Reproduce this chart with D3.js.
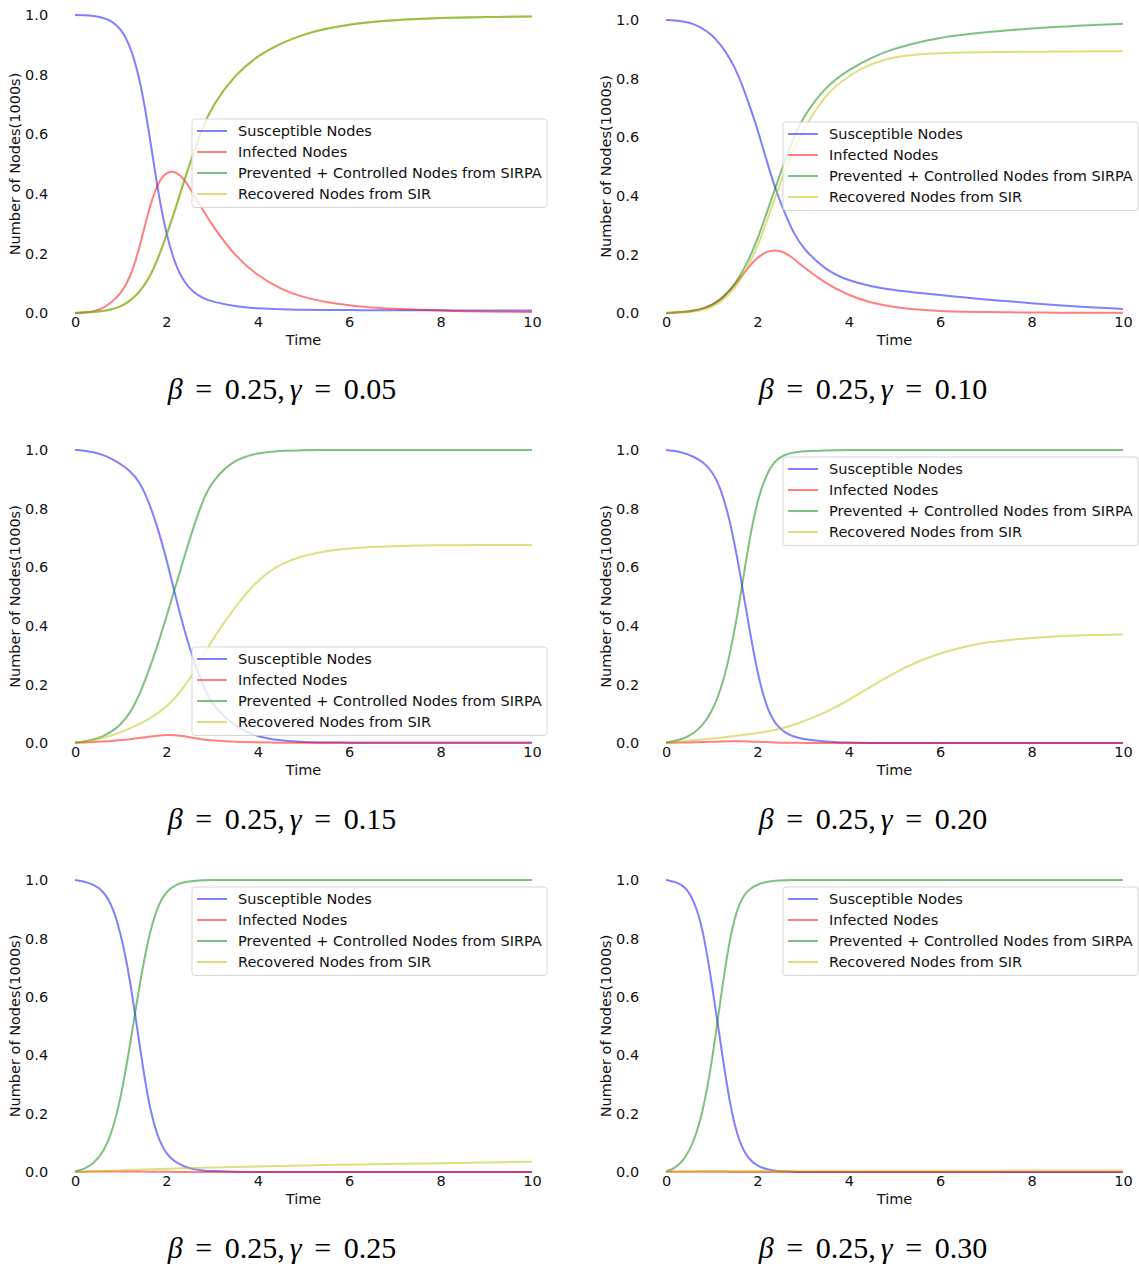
<!DOCTYPE html>
<html>
<head>
<meta charset="utf-8">
<script src="https://cdn.jsdelivr.net/npm/d3@7"></script>
<style>
  html, body { margin: 0; padding: 0; background: #ffffff; }
  svg { display: block; }
</style>
</head>
<body>
<svg id="chart" width="1139" height="1270"></svg>
<script>
// ---------------- DATA ----------------
const T = [0,0.2,0.4,0.6,0.8,1.0,1.2,1.4,1.6,1.8,2.0,2.2,2.4,2.6,2.8,3.0,3.5,4,4.5,5,5.5,6,6.5,7,7.5,8,8.5,9,9.5,10];

// Panel 1: beta 0.25, gamma 0.05
const sus1  = [1.0,0.999,0.997,0.992,0.98,0.955,0.90,0.80,0.63,0.42,0.26,0.16,0.10,0.068,0.05,0.038,0.022,0.015,0.012,0.011,0.010,0.010,0.009,0.009,0.009,0.009,0.008,0.008,0.008,0.008];
const inf1  = [0.001,0.002,0.005,0.015,0.035,0.065,0.115,0.21,0.34,0.435,0.475,0.476,0.448,0.397,0.345,0.295,0.19,0.125,0.08,0.052,0.036,0.025,0.018,0.014,0.011,0.008,0.006,0.005,0.004,0.003];
const prev1 = [0.0,0.001,0.003,0.006,0.012,0.022,0.04,0.068,0.11,0.175,0.26,0.35,0.45,0.54,0.625,0.695,0.80,0.864,0.905,0.935,0.955,0.968,0.977,0.983,0.987,0.99,0.992,0.993,0.994,0.995];
const rec1  = [0.0,0.001,0.003,0.006,0.012,0.022,0.04,0.068,0.11,0.175,0.26,0.35,0.45,0.54,0.625,0.695,0.80,0.864,0.905,0.935,0.955,0.968,0.977,0.983,0.987,0.99,0.992,0.993,0.994,0.995];

// Panel 2: beta 0.25, gamma 0.10
const sus2  = [1.0,0.999,0.995,0.987,0.972,0.95,0.915,0.87,0.807,0.72,0.63,0.52,0.42,0.34,0.27,0.22,0.145,0.11,0.09,0.078,0.069,0.061,0.054,0.046,0.040,0.033,0.027,0.022,0.018,0.014];
const inf2  = [0.001,0.002,0.004,0.008,0.015,0.027,0.047,0.075,0.115,0.155,0.19,0.21,0.216,0.207,0.185,0.158,0.10,0.06,0.034,0.02,0.011,0.007,0.004,0.003,0.002,0.002,0.001,0.001,0.001,0.001];
const prev2 = [0.0,0.001,0.003,0.007,0.014,0.026,0.045,0.078,0.12,0.178,0.25,0.34,0.43,0.52,0.60,0.67,0.775,0.83,0.873,0.903,0.923,0.94,0.95,0.958,0.965,0.971,0.976,0.98,0.984,0.987];
const rec2  = [0.0,0.0,0.002,0.005,0.01,0.02,0.038,0.066,0.105,0.16,0.225,0.31,0.40,0.485,0.562,0.625,0.75,0.81,0.853,0.874,0.883,0.887,0.889,0.89,0.891,0.892,0.892,0.893,0.893,0.893];

// Panel 3: beta 0.25, gamma 0.15
const sus3  = [1.0,0.998,0.993,0.984,0.97,0.952,0.93,0.895,0.83,0.74,0.63,0.50,0.38,0.28,0.195,0.13,0.055,0.02,0.008,0.003,0.002,0.001,0.001,0.001,0.001,0.001,0.001,0.001,0.001,0.001];
const inf3  = [0.001,0.002,0.003,0.005,0.007,0.01,0.013,0.017,0.021,0.025,0.028,0.027,0.023,0.017,0.012,0.009,0.004,0.002,0.001,0.0005,0.0005,0.0005,0.0005,0.0005,0.0005,0.0005,0.0005,0.0005,0.0005,0.0005];
const prev3 = [0.002,0.005,0.011,0.022,0.038,0.063,0.10,0.16,0.24,0.33,0.43,0.535,0.64,0.74,0.83,0.895,0.97,0.99,0.997,0.999,1.0,1.0,1.0,1.0,1.0,1.0,1.0,1.0,1.0,1.0];
const rec3  = [0.002,0.005,0.01,0.017,0.026,0.037,0.05,0.064,0.08,0.10,0.125,0.155,0.195,0.24,0.295,0.352,0.465,0.558,0.612,0.64,0.656,0.664,0.669,0.672,0.674,0.675,0.675,0.676,0.676,0.676];

// Panel 4: beta 0.25, gamma 0.20
const sus4  = [1.0,0.997,0.99,0.978,0.96,0.93,0.87,0.76,0.60,0.41,0.238,0.12,0.062,0.035,0.021,0.013,0.004,0.001,0.0,0.0,0.0,0.0,0.0,0.0,0.0,0.0,0.0,0.0,0.0,0.0];
const inf4  = [0.001,0.001,0.002,0.002,0.003,0.004,0.005,0.006,0.006,0.005,0.004,0.003,0.002,0.001,0.001,0.0,0.0,0.0,0.0,0.0,0.0,0.0,0.0,0.0,0.0,0.0,0.0,0.0,0.0,0.0];
const prev4 = [0.002,0.007,0.016,0.032,0.06,0.105,0.18,0.30,0.47,0.675,0.83,0.92,0.966,0.985,0.992,0.996,0.999,1.0,1.0,1.0,1.0,1.0,1.0,1.0,1.0,1.0,1.0,1.0,1.0,1.0];
const rec4  = [0.001,0.003,0.006,0.009,0.012,0.015,0.018,0.022,0.026,0.03,0.034,0.039,0.045,0.053,0.062,0.073,0.105,0.146,0.195,0.24,0.278,0.307,0.328,0.343,0.352,0.359,0.364,0.367,0.369,0.371];

// Panel 5: beta 0.25, gamma 0.25
const sus5  = [1.0,0.995,0.985,0.965,0.92,0.82,0.665,0.45,0.24,0.12,0.06,0.033,0.018,0.009,0.005,0.003,0.001,0.0,0.0,0.0,0.0,0.0,0.0,0.0,0.0,0.0,0.0,0.0,0.0,0.0];
const inf5  = [0.001,0.001,0.002,0.002,0.002,0.002,0.002,0.002,0.001,0.001,0.001,0.0,0.0,0.0,0.0,0.0,0.0,0.0,0.0,0.0,0.0,0.0,0.0,0.0,0.0,0.0,0.0,0.0,0.0,0.0];
const prev5 = [0.002,0.01,0.028,0.063,0.13,0.25,0.43,0.63,0.80,0.91,0.962,0.984,0.993,0.997,0.999,1.0,1.0,1.0,1.0,1.0,1.0,1.0,1.0,1.0,1.0,1.0,1.0,1.0,1.0,1.0];
const rec5  = [0.0,0.001,0.002,0.003,0.004,0.005,0.007,0.008,0.009,0.01,0.011,0.012,0.013,0.014,0.014,0.015,0.017,0.019,0.021,0.022,0.024,0.025,0.027,0.028,0.029,0.03,0.031,0.032,0.034,0.035];

// Panel 6: beta 0.25, gamma 0.30
const sus6  = [1.0,0.994,0.98,0.935,0.84,0.65,0.435,0.225,0.10,0.045,0.02,0.009,0.004,0.002,0.001,0.0,0.0,0.0,0.0,0.0,0.0,0.0,0.0,0.0,0.0,0.0,0.0,0.0,0.0,0.0];
const inf6  = [0.001,0.001,0.001,0.001,0.001,0.001,0.001,0.0,0.0,0.0,0.0,0.0,0.0,0.0,0.0,0.0,0.0,0.0,0.0,0.0,0.0,0.0,0.0,0.0,0.0,0.0,0.0,0.0,0.0,0.0];
const prev6 = [0.002,0.013,0.042,0.10,0.20,0.37,0.60,0.81,0.925,0.968,0.985,0.994,0.998,0.999,1.0,1.0,1.0,1.0,1.0,1.0,1.0,1.0,1.0,1.0,1.0,1.0,1.0,1.0,1.0,1.0];
const rec6  = [0.001,0.002,0.002,0.003,0.003,0.003,0.003,0.003,0.003,0.003,0.003,0.003,0.003,0.003,0.004,0.004,0.004,0.004,0.004,0.004,0.004,0.004,0.004,0.004,0.005,0.005,0.005,0.005,0.005,0.005];

const seriesNames = ["Susceptible Nodes", "Infected Nodes", "Prevented + Controlled Nodes from SIRPA", "Recovered Nodes from SIR"];
const seriesColors = ["#0000ff", "#ff0000", "#008000", "#bfbf00"];
const betaLabels  = ["0.25", "0.25", "0.25", "0.25", "0.25", "0.25"];
const gammaLabels = ["0.05", "0.10", "0.15", "0.20", "0.25", "0.30"];
const xTicks = [0, 2, 4, 6, 8, 10];
const yTicks = [0.0, 0.2, 0.4, 0.6, 0.8, 1.0];
const xLabel = "Time";
const yLabel = "Number of Nodes(1000s)";

const panelSeries = [
  [sus1, inf1, prev1, rec1],
  [sus2, inf2, prev2, rec2],
  [sus3, inf3, prev3, rec3],
  [sus4, inf4, prev4, rec4],
  [sus5, inf5, prev5, rec5],
  [sus6, inf6, prev6, rec6]
];

// ---------------- LAYOUT ----------------
const colX0 = [75, 666];
const plotW = 457;
const rowY0 = [313, 743, 1172];
const yTopPx = [15, 20, 450, 450, 880, 880];
const legendTop = [119, 122, 647, 457, 887, 887];
const titleCx = [282, 873];
const FONT = "'DejaVu Sans', sans-serif";
const FS = "14.5px";

const svg = d3.select("#chart");

panelSeries.forEach((series, i) => {
  const col = i % 2, row = Math.floor(i / 2);
  const x0 = colX0[col];
  const yb = rowY0[row];
  const x = d3.scaleLinear().domain([0, 10]).range([x0, x0 + plotW]);
  const y = d3.scaleLinear().domain([0, 1]).range([yb, yTopPx[i]]);
  const g = svg.append("g");

  // axes (no spines, no tick marks)
  const xAxis = g.append("g")
    .attr("transform", `translate(0,${yb})`)
    .call(d3.axisBottom(x).tickValues(xTicks).tickSize(0).tickPadding(4).tickFormat(d3.format("d")));
  const yAxis = g.append("g")
    .attr("transform", `translate(${x(-0.5)},0)`)
    .call(d3.axisLeft(y).tickValues(yTicks).tickSize(0).tickPadding(4).tickFormat(d3.format(".1f")));
  [xAxis, yAxis].forEach(a => {
    a.select(".domain").remove();
    a.selectAll("text").style("font-family", FONT).style("font-size", FS).attr("fill", "#111");
  });

  // axis labels
  g.append("text")
    .attr("x", x(5)).attr("y", yb + 32)
    .attr("text-anchor", "middle")
    .style("font-family", FONT).style("font-size", FS).attr("fill", "#111")
    .text(xLabel);
  const ym = (yb + yTopPx[i]) / 2;
  g.append("text")
    .attr("transform", `translate(${x0 - 60},${ym}) rotate(-90)`)
    .attr("text-anchor", "middle").attr("dominant-baseline", "central")
    .style("font-family", FONT).style("font-size", FS).attr("fill", "#111")
    .text(yLabel);

  // lines
  const line = d3.line().x((d, k) => x(T[k])).y(d => y(d)).curve(d3.curveBasis);
  series.forEach((vals, s) => {
    g.append("path")
      .datum(vals)
      .attr("d", line)
      .attr("fill", "none")
      .attr("stroke", seriesColors[s])
      .attr("stroke-opacity", 0.5)
      .attr("stroke-width", 2);
  });

  // legend
  const lx = x0 + 117, ly = legendTop[i];
  const lg = g.append("g");
  lg.append("rect")
    .attr("x", lx).attr("y", ly).attr("width", 355).attr("height", 88.5)
    .attr("rx", 3).attr("ry", 3)
    .attr("fill", "#ffffff").attr("fill-opacity", 0.8)
    .attr("stroke", "#cccccc").attr("stroke-opacity", 0.8).attr("stroke-width", 1);
  seriesNames.forEach((name, s) => {
    const cy = ly + 12 + s * 21;
    lg.append("line")
      .attr("x1", lx + 5).attr("x2", lx + 35)
      .attr("y1", cy).attr("y2", cy)
      .attr("stroke", seriesColors[s]).attr("stroke-opacity", 0.5).attr("stroke-width", 2);
    lg.append("text")
      .attr("x", lx + 46).attr("y", cy)
      .attr("dominant-baseline", "central")
      .style("font-family", FONT).style("font-size", FS).attr("fill", "#111")
      .text(name);
  });

  // caption (math-like title)
  const t = svg.append("text")
    .attr("x", titleCx[col]).attr("y", yb + 86)
    .attr("text-anchor", "middle")
    .style("font-family", "'Liberation Serif', 'DejaVu Serif', serif")
    .style("font-size", "30px").attr("fill", "#000");
  t.append("tspan").style("font-style", "italic").text("β");
  t.append("tspan").attr("dx", "0.42em").text("=");
  t.append("tspan").attr("dx", "0.42em").text(betaLabels[i] + ",");
  t.append("tspan").attr("dx", "0.17em").style("font-style", "italic").text("γ");
  t.append("tspan").attr("dx", "0.42em").text("=");
  t.append("tspan").attr("dx", "0.42em").text(gammaLabels[i]);
});
</script>
</body>
</html>
